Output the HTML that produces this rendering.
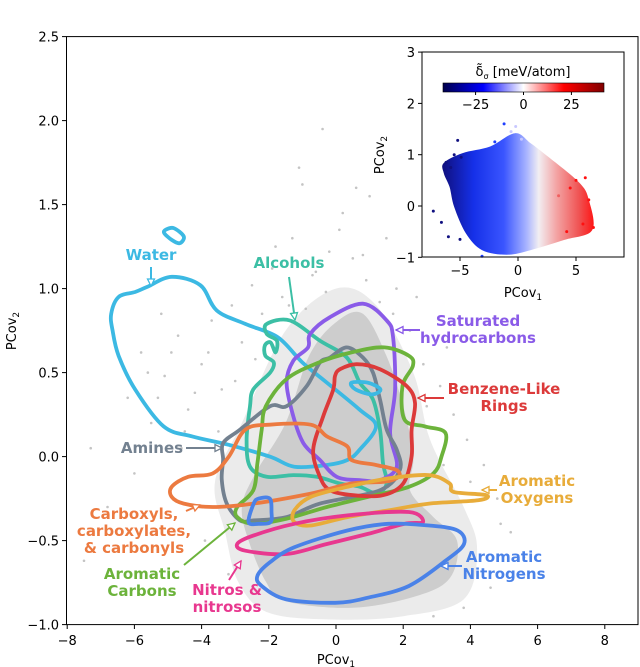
<!DOCTYPE html>
<html><head><meta charset="utf-8"><style>
body{margin:0;background:#fff}
svg{display:block;font-family:"DejaVu Sans","Liberation Sans",sans-serif}
.tk{font-size:13px;fill:#000}
.lb{font-size:15px;font-weight:bold}
</style></head><body>
<svg id="chart" width="640" height="667" viewBox="0 0 640 667" xmlns="http://www.w3.org/2000/svg">
<defs>
<linearGradient id="cbar" x1="0" x2="1" y1="0" y2="0">
<stop offset="0" stop-color="#00004c"/><stop offset="0.25" stop-color="#0000ff"/><stop offset="0.5" stop-color="#ffffff"/><stop offset="0.75" stop-color="#ff0000"/><stop offset="1" stop-color="#7f0000"/>
</linearGradient>
<linearGradient id="cloud" gradientUnits="userSpaceOnUse" x1="443" x2="595" y1="0" y2="0">
<stop offset="0" stop-color="#101080"/><stop offset="0.2" stop-color="#1530e8"/><stop offset="0.4" stop-color="#3a55ff"/><stop offset="0.55" stop-color="#a8b4ff"/><stop offset="0.63" stop-color="#f2eef2"/><stop offset="0.75" stop-color="#f3a2a2"/><stop offset="0.9" stop-color="#f05050"/><stop offset="1" stop-color="#ff1010"/>
</linearGradient>
</defs>
<g id="main"></g>
<g id="inset"></g>
</svg>
<script>
// ---------- main chart data ----------
const xTicks=[-8,-6,-4,-2,0,2,4,6,8];
const yTicks=[-1.0,-0.5,0.0,0.5,1.0,1.5,2.0,2.5];
const densityCore=[[-1.5,0.2],[-0.8,0.6],[0,0.8],[0.8,0.85],[1.5,0.6],[2,0.3],[2.3,0],[2.2,-0.2],[2.9,-0.36],[3.6,-0.5],[3.4,-0.72],[2.4,-0.83],[0.5,-0.9],[-1.5,-0.86],[-2.1,-0.74],[-2.6,-0.5],[-2.8,-0.3],[-2.4,-0.1]];
const densityHalo=[[-2.8,0.2],[-1.5,0.75],[0,1.0],[1.2,0.9],[2.3,0.5],[2.8,0.1],[3.8,-0.3],[4.2,-0.55],[3.8,-0.85],[2,-0.95],[0,-0.97],[-2,-0.93],[-2.9,-0.75],[-3.3,-0.45],[-3.6,-0.15]];
const sparseX=[-7.5,-7.3,-6.8,-6.2,-5.8,-5.5,-5.1,-4.7,-4.4,-4.0,-3.7,-3.4,-3.1,-2.8,-2.5,-2.2,-1.9,-1.6,-1.3,-1.0,-0.7,-0.4,-0.2,0.2,0.5,0.9,1.3,1.7,2.2,2.6,3.1,3.5,3.9,4.4,4.8,5.2,5.6,-6.0,-5.2,-4.6,-3.9,-3.2,-2.6,-1.8,-1.1,-0.3,0.6,1.5,2.4,3.3,4.6,-4.9,-5.6,-3.5,-2.0,-0.9,0.1,1.0,2.9,3.8,-4.2,-3.8,-3.0,-2.4,-5.3,-4.5,2.7,3.2,4.0,4.9,-1.4,-0.6,0.8,1.8];
const sparseY=[-0.62,0.05,-0.3,0.35,0.62,0.2,0.48,0.72,0.28,0.55,0.81,0.4,0.9,0.68,1.02,0.85,1.12,0.95,1.3,1.62,1.08,1.95,1.22,1.45,1.18,1.05,0.92,0.85,0.75,0.55,0.42,0.25,0.1,-0.05,-0.25,-0.45,-0.6,-0.1,0.85,0.05,-0.5,-0.7,-0.92,1.25,1.72,0.98,1.6,1.3,0.95,0.65,-0.78,0.62,0.5,0.15,0.72,0.88,1.35,1.55,-0.95,-0.9,0.38,0.62,0.45,0.58,0.35,0.15,0.3,-0.05,-0.15,-0.4,0.9,1.1,1.2,1.0];
const water=[[-5.62,1.01],[-4.89,1.07],[-4.04,1.02],[-3.55,0.87],[-2.7,0.79],[-1.73,0.71],[-1.0,0.56],[-0.27,0.44],[0.7,0.28],[1.19,0.18],[0.7,0.04],[0.34,-0.02],[-0.27,-0.05],[-1.24,-0.06],[-1.97,0],[-3.19,0.07],[-4.28,0.12],[-5.13,0.18],[-5.98,0.40],[-6.47,0.6],[-6.65,0.75],[-6.69,0.85],[-6.47,0.95],[-5.98,0.98]];
const waterLoop1=[[-5.07,1.35],[-4.83,1.36],[-4.53,1.31],[-4.65,1.27],[-4.89,1.29],[-5.11,1.33]];
const waterLoop2=[[0.46,0.44],[0.95,0.44],[1.32,0.4],[1.07,0.37],[0.58,0.4]];
const alcohols=[[-2.06,0.79],[-1.37,0.81],[-0.48,0.69],[0.32,0.59],[0.71,0.44],[1.1,0.34],[1.31,0.16],[1.4,-0.04],[1.51,-0.16],[1.21,-0.22],[0.71,-0.18],[0.12,-0.16],[-0.57,-0.12],[-1.27,-0.11],[-2.06,-0.12],[-2.56,-0.06],[-2.66,0.1],[-2.56,0.3],[-2.46,0.4],[-1.96,0.5],[-1.85,0.56],[-2.1,0.6],[-2.12,0.66],[-1.95,0.68],[-1.8,0.62],[-1.76,0.69],[-2.06,0.73]];
const saturated=[[-0.77,0.73],[-0.18,0.83],[0.8,0.91],[1.51,0.81],[1.7,0.71],[1.76,0.4],[1.61,0.14],[1.81,-0.06],[1.31,-0.14],[0.71,-0.14],[0.02,-0.12],[-0.48,-0.02],[-0.97,0.08],[-1.27,0.24],[-1.47,0.44],[-1.27,0.57],[-0.83,0.65]];
const benzene=[[0.12,0.52],[0.62,0.55],[1.31,0.52],[2.1,0.42],[2.35,0.32],[2.25,0.16],[2.25,0],[2.0,-0.16],[1.4,-0.23],[0.51,-0.23],[-0.18,-0.2],[-0.48,-0.12],[-0.68,0.04],[-0.38,0.24],[-0.08,0.4],[-0.03,0.48]];
const amines=[[-0.18,0.59],[0.32,0.65],[0.8,0.59],[1.1,0.5],[1.31,0.34],[1.51,0.16],[1.81,0.04],[1.9,-0.08],[1.31,-0.2],[-0.48,-0.28],[-1.47,-0.36],[-2.46,-0.38],[-2.86,-0.38],[-3.25,-0.28],[-3.4,-0.14],[-3.36,-0.02],[-3.36,0.08],[-2.86,0.16],[-1.96,0.3],[-1.47,0.3],[-0.87,0.42],[-0.48,0.56]];
const carboxyls=[[-4.89,-0.18],[-4.4,-0.12],[-3.67,-0.1],[-3.19,0],[-2.7,0.16],[-1.97,0.19],[-0.75,0.19],[-0.27,0.12],[0.34,0.06],[0.46,-0.02],[1.19,-0.05],[1.8,-0.08],[1.86,-0.12],[1.44,-0.15],[0.46,-0.16],[-0.75,-0.22],[-2.46,-0.28],[-3.67,-0.3],[-4.53,-0.28],[-4.89,-0.24]];
const aroCarbons=[[-2.09,0.3],[-1.48,0.46],[-0.51,0.56],[0.46,0.62],[1.44,0.65],[2.17,0.6],[2.29,0.54],[1.98,0.42],[2.04,0.22],[2.65,0.18],[3.26,0.14],[3.14,0],[2.9,-0.1],[2.17,-0.18],[0.95,-0.24],[-0.27,-0.3],[-1.48,-0.37],[-2.46,-0.4],[-2.94,-0.36],[-2.94,-0.3],[-2.46,-0.2],[-2.34,-0.04],[-2.21,0.16]];
const aroOxygens=[[-1.24,-0.32],[-0.75,-0.24],[0.34,-0.18],[1.56,-0.13],[2.77,-0.11],[3.38,-0.16],[3.5,-0.21],[4.47,-0.23],[4.23,-0.26],[2.77,-0.28],[1.56,-0.32],[0.34,-0.36],[-0.75,-0.41],[-1.24,-0.39]];
const nitros=[[-2.94,-0.52],[-2.46,-0.47],[-1.24,-0.4],[0.34,-0.35],[2.17,-0.33],[2.59,-0.39],[2.04,-0.4],[0.95,-0.46],[-0.27,-0.52],[-1.48,-0.58],[-2.7,-0.56]];
const aroNitrogens=[[-2.34,-0.71],[-1.97,-0.63],[-1.24,-0.54],[0.34,-0.44],[1.56,-0.4],[2.77,-0.41],[3.62,-0.44],[3.81,-0.52],[3.26,-0.62],[2.17,-0.77],[0.95,-0.84],[-0.02,-0.87],[-1.48,-0.85],[-2.21,-0.77]];
const aroNitrogensLoop=[[-2.6,-0.39],[-2.45,-0.28],[-2.3,-0.25],[-1.97,-0.25],[-1.92,-0.33],[-1.95,-0.39],[-2.3,-0.4]];
// ---------- inset data ----------
const insetXTicks=[-5,0,5];
const insetYTicks=[-1,0,1,2,3];
const cbarTicks=[-25,0,25];
const insetCloud=[[-6.4,0.84],[-4.8,1.03],[-2.4,1.16],[-0.26,1.42],[1.1,1.22],[2.6,0.96],[5.3,0.45],[6.1,0.12],[6.4,-0.47],[4,-0.66],[1.1,-0.86],[-0.95,-0.95],[-3.1,-0.86],[-4.5,-0.53],[-5.5,-0.02],[-5.9,0.37],[-6.4,0.64]];
const insetDotX=[-7.3,-6.6,-6.2,-5.8,-5.5,-5.2,-4.9,-1.2,-0.2,0.3,4.5,5.0,5.8,6.1,6.5,5.6,4.2,3.5,-6.0,-5.0,-3.1,-2.0,-0.6];
const insetDotY=[-0.1,-0.32,0.85,0.75,1.0,1.28,0.95,1.6,1.55,1.3,0.35,0.5,0.55,0.12,-0.42,-0.35,-0.5,0.2,-0.6,-0.65,-0.98,1.25,1.45];

const NS="http://www.w3.org/2000/svg";
const X=v=>336+33.6*v, Y=v=>456.6-168*v;
const IX=v=>518+11.6*v, IY=v=>206-51.3*v;
function mk(tag,attrs,parent){const e=document.createElementNS(NS,tag);for(const k in attrs)e.setAttribute(k,attrs[k]);parent.appendChild(e);return e;}
function smooth(pts,fx,fy){const p=pts.map(q=>[fx(q[0]),fy(q[1])]);const n=p.length;let d=`M${p[0][0].toFixed(1)},${p[0][1].toFixed(1)}`;
for(let i=0;i<n;i++){const p0=p[(i-1+n)%n],p1=p[i],p2=p[(i+1)%n],p3=p[(i+2)%n];
const c1=[p1[0]+(p2[0]-p0[0])/6,p1[1]+(p2[1]-p0[1])/6],c2=[p2[0]-(p3[0]-p1[0])/6,p2[1]-(p3[1]-p1[1])/6];
d+=`C${c1[0].toFixed(1)},${c1[1].toFixed(1)} ${c2[0].toFixed(1)},${c2[1].toFixed(1)} ${p2[0].toFixed(1)},${p2[1].toFixed(1)}`;}
return d+'Z';}
const main=document.getElementById('main');
let e=mk('path',{d:smooth(densityHalo,X,Y),fill:'#ebebeb'},main);


e=mk('path',{d:smooth(densityCore,X,Y),fill:'#cdcdcd'},main);


for(let i=0;i<sparseX.length;i++){
 const c=mk('circle',{cx:X(sparseX[i]),cy:Y(sparseY[i]),r:1.3,fill:'#c4c4c4'},main);
 
 
}
const contours=[['water-contour',water,'#3cb9e3'],['water-loop-contour',waterLoop1,'#3cb9e3'],['alcohols-contour',alcohols,'#3cbfa5'],['saturated-hydrocarbons-contour',saturated,'#8a5be8'],['amines-contour',amines,'#738190'],['aromatic-carbons-contour',aroCarbons,'#6cb33b'],['benzene-like-rings-contour',benzene,'#dc3a3a'],['water-inner-loop-contour',waterLoop2,'#3cb9e3'],['carboxyls-contour',carboxyls,'#ec7a40'],['aromatic-oxygens-contour',aroOxygens,'#e8ac3a'],['nitros-contour',nitros,'#e8388f'],['aromatic-nitrogens-contour',aroNitrogens,'#4a82e8'],['aromatic-nitrogens-loop-contour',aroNitrogensLoop,'#4a82e8']];
for(const [nm,pts,col] of contours){
 const p=mk('path',{d:smooth(pts,X,Y),fill:'none',stroke:col,'stroke-width':3.8,'stroke-linejoin':'round'},main);
 
 
}
const labels=[
 ['water-label',['Water'],151,260,'#3cb9e3',[151,267,151,286]],
 ['alcohols-label',['Alcohols'],289,268,'#3cbfa5',[289,277,295,320]],
 ['saturated-hydrocarbons-label',['Saturated','hydrocarbons'],478,326,'#8a5be8',[420,330,396,330]],
 ['benzene-like-rings-label',['Benzene-Like','Rings'],504,394,'#dc3a3a',[444,398,418,398]],
 ['amines-label',['Amines'],152,453,'#738190',[186,448,222,448]],
 ['aromatic-oxygens-label',['Aromatic','Oxygens'],537,486,'#e8ac3a',[497,490,482,490]],
 ['carboxyls-label',['Carboxyls,','carboxylates,','& carbonyls'],134,519,'#ec7a40',[186,511,200,505]],
 ['aromatic-carbons-label',['Aromatic','Carbons'],142,579,'#6cb33b',[184,565,235,523]],
 ['nitros-label',['Nitros &','nitrosos'],227,595,'#e8388f',[229,580,241,561]],
 ['aromatic-nitrogens-label',['Aromatic','Nitrogens'],504,562,'#4a82e8',[462,566,441,566]]];
for(const [nm,lines,x,y,col,a] of labels){
 const t=mk('text',{x:x,y:y,'text-anchor':'middle',fill:col,class:'lb'},main);
 
 
 lines.forEach((s,i)=>{const ts=mk('tspan',{x:x,dy:i?17:0},t);ts.textContent=s;});
 const g=mk('g',{},main);
 
 
 mk('line',{x1:a[0],y1:a[1],x2:a[2],y2:a[3],stroke:col,'stroke-width':2},g);
 const ang=Math.atan2(a[3]-a[1],a[2]-a[0]),L=7,W=3.5;
 const bx=a[2]-L*Math.cos(ang),by=a[3]-L*Math.sin(ang);
 const px=-Math.sin(ang)*W,py=Math.cos(ang)*W;
 mk('polygon',{points:`${a[2]},${a[3]} ${bx+px},${by+py} ${bx-px},${by-py}`,fill:'#fff',stroke:col,'stroke-width':1.3},g);
}
e=mk('rect',{x:66.5,y:36.6,width:571.5,height:588,fill:'none',stroke:'#000','stroke-width':1},main);


for(const v of xTicks){mk('line',{x1:X(v),x2:X(v),y1:624.6,y2:629,stroke:'#000'},main);
 const t=mk('text',{x:X(v),y:645,'text-anchor':'middle',class:'tk'},main);t.textContent=(v<0?'\u2212':'')+Math.abs(v);
 
 }
for(const v of yTicks){mk('line',{x1:62,x2:66.5,y1:Y(v),y2:Y(v),stroke:'#000'},main);
 const t=mk('text',{x:59,y:Y(v)+5,'text-anchor':'end',class:'tk'},main);t.textContent=(v<0?'\u2212':'')+Math.abs(v).toFixed(1);
 
 }
e=mk('text',{x:336,y:664,'text-anchor':'middle',class:'tk'},main);
e.innerHTML='PCov<tspan font-size="9" dy="3">1</tspan>';


e=mk('text',{x:0,y:0,'text-anchor':'middle',class:'tk',transform:'translate(16,331) rotate(-90)'},main);
e.innerHTML='PCov<tspan font-size="9" dy="3">2</tspan>';


const ins=document.getElementById('inset');
e=mk('rect',{x:422,y:52,width:202,height:205,fill:'#fff'},ins);


e=mk('path',{d:smooth(insetCloud,IX,IY),fill:'url(#cloud)'},ins);


for(let i=0;i<insetDotX.length;i++){
 const v=insetDotX[i];const col=v<-4?'#101080':v<-1?'#2040ff':v<1.5?'#c8c8ff':v<4?'#f06060':'#ff1010';
 const c=mk('circle',{cx:IX(v),cy:IY(insetDotY[i]),r:1.5,fill:col},ins);
 
 
}
e=mk('rect',{x:422,y:52,width:202,height:205,fill:'none',stroke:'#000'},ins);


for(const v of insetXTicks){mk('line',{x1:IX(v),x2:IX(v),y1:257,y2:261,stroke:'#000'},ins);
 const t=mk('text',{x:IX(v),y:275,'text-anchor':'middle',class:'tk'},ins);t.textContent=(v<0?'\u2212':'')+Math.abs(v);
 
 }
for(const v of insetYTicks){mk('line',{x1:418,x2:422,y1:IY(v),y2:IY(v),stroke:'#000'},ins);
 const t=mk('text',{x:415,y:IY(v)+5,'text-anchor':'end',class:'tk'},ins);t.textContent=(v<0?'\u2212':'')+Math.abs(v);
 
 }
e=mk('text',{x:523,y:297,'text-anchor':'middle',class:'tk'},ins);
e.innerHTML='PCov<tspan font-size="9" dy="3">1</tspan>';


e=mk('text',{x:0,y:0,'text-anchor':'middle',class:'tk',transform:'translate(384,155) rotate(-90)'},ins);
e.innerHTML='PCov<tspan font-size="9" dy="3">2</tspan>';


const CB=v=>523.5+(v/42)*80.5;
e=mk('rect',{x:443,y:83,width:161,height:9,fill:'url(#cbar)',stroke:'#000','stroke-width':0.6},ins);


for(const v of cbarTicks){mk('line',{x1:CB(v),x2:CB(v),y1:92,y2:95,stroke:'#000'},ins);
 const t=mk('text',{x:CB(v),y:109,'text-anchor':'middle',class:'tk'},ins);t.textContent=(v<0?'\u2212':'')+Math.abs(v);
 
 }
e=mk('text',{x:523,y:76,'text-anchor':'middle',class:'tk'},ins);
e.innerHTML='\u03b4\u0303<tspan font-size="8" dy="3">\u03c3</tspan><tspan dy="-3"> [meV/atom]</tspan>';


</script>
</body></html>
